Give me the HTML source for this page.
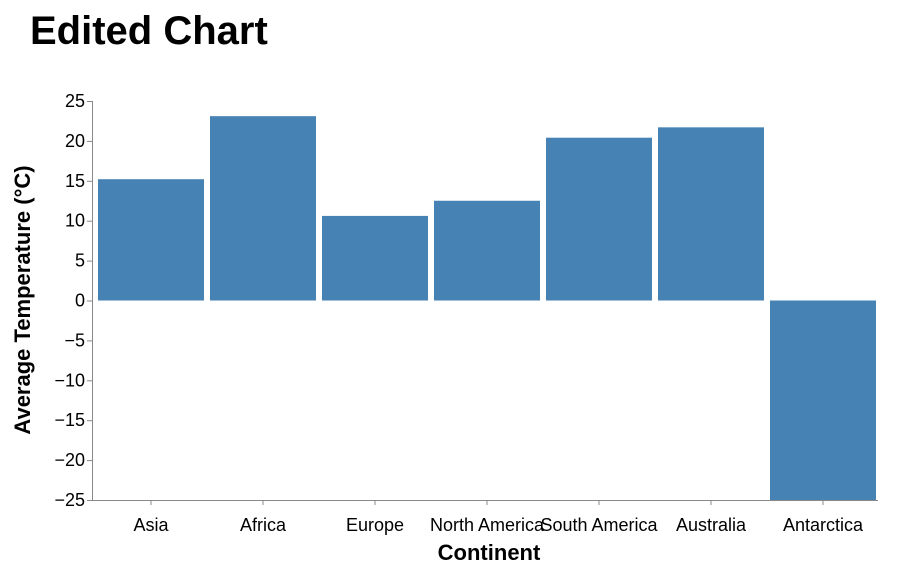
<!DOCTYPE html>
<html><head><meta charset="utf-8"><style>
body{margin:0;background:#fff;font-family:"Liberation Sans",Arial,sans-serif}
svg text{font-family:"Liberation Sans",Arial,sans-serif}
</style></head><body>
<svg id="chart" width="898" height="574">
<text x="30" y="44" font-size="40" font-weight="bold" fill="#000">Edited Chart</text>
<g id="g"></g>
</svg>
<script>
const categories=["Asia","Africa","Europe","North America","South America","Australia","Antarctica"];
const values=[15.2,23.1,10.6,12.5,20.4,21.7,-25];
const yTicks=[25,20,15,10,5,0,-5,-10,-15,-20,-25];
const ns="http://www.w3.org/2000/svg";
const g=document.getElementById('g');
const X0=95,step=112,AX0=92,AX1=878,Y0=500,Y1=101,ymin=-25,ymax=25;
const y=v=>Y0-(v-ymin)/(ymax-ymin)*(Y0-Y1);
const x=i=>X0+i*step;
function el(t,a,txt){const e=document.createElementNS(ns,t);for(const k in a)e.setAttribute(k,a[k]);if(txt!=null)e.textContent=txt;g.appendChild(e);return e;}
values.forEach((v,i)=>{
 const r=el('rect',{x:x(i)+3,width:step-6,y:Math.min(y(v),y(0)),height:Math.abs(y(v)-y(0)),fill:'#4682b4'});
 
 
});
yTicks.forEach(t=>{
 const l=el('line',{x1:AX0-5,x2:AX0,y1:y(t)+.5,y2:y(t)+.5,stroke:'#888'});
 
 
 const tx=el('text',{x:AX0-7,y:y(t)+6,'text-anchor':'end','font-size':18,fill:'#000'},String(t).replace('-','\u2212'));
 
 
});
const ya=el('line',{x1:AX0+.5,x2:AX0+.5,y1:Y1,y2:Y0,stroke:'#888'});


const xa=el('line',{x1:AX0,x2:AX1,y1:Y0+.5,y2:Y0+.5,stroke:'#888'});


categories.forEach((c,i)=>{
 const cx=x(i)+step/2;
 const l=el('line',{x1:cx,x2:cx,y1:Y0,y2:Y0+5,stroke:'#888'});
 
 
 const tx=el('text',{x:cx,y:Y0+31,'text-anchor':'middle','font-size':18,fill:'#000'},c);
 
 
});
const xt=el('text',{x:489,y:560,'text-anchor':'middle','font-size':22,'font-weight':'bold'},'Continent');


const yt=el('text',{x:0,y:0,transform:'translate(30,300) rotate(-90)','text-anchor':'middle','font-size':22,'font-weight':'bold'},'Average Temperature (°C)');


</script>
</body></html>
